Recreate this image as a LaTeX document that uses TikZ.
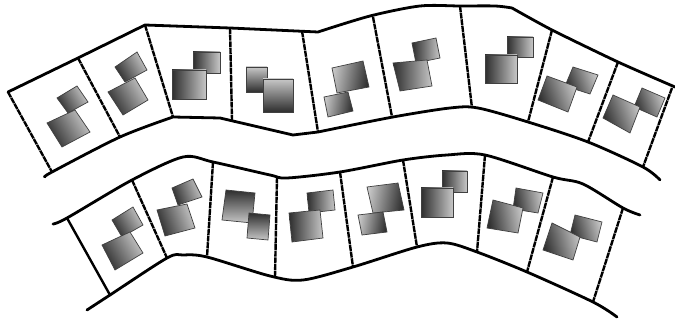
\documentclass[tikz,border=0pt]{standalone}
\begin{document}
\begin{tikzpicture}[x=1pt,y=-1pt,
  edge/.style={line width=2.8pt,line join=round,line cap=round},
  divider/.style={line width=2.4pt,dash pattern=on 6pt off 0.7pt},
  solidiv/.style={line width=2.4pt},
  hs/.style={draw=black!75,line width=0.7pt,top color=black!22,bottom color=black!82}]
\useasboundingbox[fill=white] (0,0) rectangle (675,320);

% ---------- upper strip ----------
\draw[edge] (8,92) -- (78,58) -- (145,25) -- (230,28) -- (318,32)
  plot[smooth,tension=0.5] coordinates {(318,32) (370,16) (420,6) (460,6) (495,6) (512,8)}
  plot[smooth,tension=0.4] coordinates {(512,8) (552,30) (618,62) (675,87)};
\draw[edge] plot[smooth,tension=0.5] coordinates {(45,177) (52,172) (120,137) (173,117)}
  -- (220,118) -- (293,135) -- (318,132)
  plot[smooth,tension=0.5] coordinates {(318,132) (393,117) (450,108) (478,108) (528,122) (588,142) (643,167) (660,180)};

\draw[divider] (8,92) -- (52,172);
\draw[divider] (78,58) -- (120,137);
\draw[divider] (145,25) -- (173,117);
\draw[divider] (230,28) -- (232,120);
\draw[divider] (302,31) -- (318,132);
\draw[divider] (373,17) -- (392,117);
\draw[divider] (460,6) -- (472,108);
\draw[divider] (552,30) -- (528,122);
\draw[divider] (618,62) -- (588,142);
\draw[divider] (672,88) -- (643,167);

% houses upper
\shade[hs,shading angle=-60] (57,98) -- (77,86) -- (88,102) -- (68,113) -- cycle;
\shade[hs,shading angle=-60] (47,123) -- (75,110) -- (90,132) -- (62,147) -- cycle;

\shade[hs,shading angle=-60] (115,67) -- (137,52) -- (147,70) -- (125,82) -- cycle;
\shade[hs,shading angle=-60] (108,92) -- (135,78) -- (148,100) -- (123,115) -- cycle;

\shade[hs,shading angle=-90] (193,52) rectangle (220,73);
\shade[hs,shading angle=-90] (172,70) rectangle (206,99);

\shade[hs,shading angle=0] (246,67) rectangle (267,92);
\shade[hs,shading angle=0] (263,79) rectangle (293,112);

\shade[hs,shading angle=80] (332,68) -- (363,61) -- (369,87) -- (337,93) -- cycle;
\shade[hs,shading angle=80] (324,97) -- (348,92) -- (353,111) -- (328,117) -- cycle;

\shade[hs,shading angle=-90] (412,43) -- (436,38) -- (440,58) -- (416,63) -- cycle;
\shade[hs,shading angle=-90] (393,63) -- (427,60) -- (432,86) -- (400,91) -- cycle;

\shade[hs,shading angle=-90] (507,37) rectangle (533,57);
\shade[hs,shading angle=-90] (485,55) rectangle (517,83);

\shade[hs,shading angle=-70] (573,67) -- (598,75) -- (590,94) -- (565,86) -- cycle;
\shade[hs,shading angle=-70] (538,100) -- (547,76) -- (577,87) -- (568,112) -- cycle;

\shade[hs,shading angle=-70] (642,88) -- (665,98) -- (657,117) -- (634,107) -- cycle;
\shade[hs,shading angle=-70] (603,118) -- (613,95) -- (640,107) -- (630,133) -- cycle;

% ---------- lower strip ----------
\draw[edge] plot[smooth,tension=0.5] coordinates {(53,224) (67,218) (132,180) (183,157) (213,162) (270,175) (287,178) (340,172) (403,160) (447,155) (485,155) (553,177) (583,184) (623,208) (640,215)};
\draw[edge] plot[smooth,tension=0.5] coordinates {(87,310) (110,295) (167,258) (183,255) (207,257) (270,276) (303,280) (353,267) (417,247) (447,243) (477,252) (527,272) (593,302) (617,317)};

\draw[solidiv] (67,218) -- (110,295);
\draw[divider] (132,180) -- (167,258);
\draw[divider] (213,162) -- (207,257);
\draw[divider] (277,177) -- (275,277);
\draw[divider] (340,172) -- (353,267);
\draw[divider] (403,160) -- (417,247);
\draw[divider] (485,155) -- (477,252);
\draw[divider] (553,177) -- (527,272);
\draw[divider] (623,208) -- (593,302);

% houses lower
\shade[hs,shading angle=-60] (112,220) -- (133,207) -- (143,225) -- (122,237) -- cycle;
\shade[hs,shading angle=-60] (102,245) -- (130,232) -- (143,253) -- (115,270) -- cycle;

\shade[hs,shading angle=-70] (172,188) -- (193,179) -- (202,197) -- (178,205) -- cycle;
\shade[hs,shading angle=-70] (157,210) -- (187,204) -- (195,228) -- (165,236) -- cycle;

\shade[hs,shading angle=180] (226,190) -- (255,193) -- (252,223) -- (222,220) -- cycle;
\shade[hs,shading angle=180] (249,213) -- (270,215) -- (268,240) -- (247,238) -- cycle;

\shade[hs,shading angle=-90] (307,193) -- (333,190) -- (335,210) -- (309,213) -- cycle;
\shade[hs,shading angle=-90] (289,213) -- (320,210) -- (323,238) -- (292,242) -- cycle;

\shade[hs,shading angle=80] (367,187) -- (398,183) -- (404,210) -- (373,213) -- cycle;
\shade[hs,shading angle=80] (358,215) -- (383,212) -- (387,232) -- (362,235) -- cycle;

\shade[hs,shading angle=-90] (442,171) rectangle (467,192);
\shade[hs,shading angle=-90] (421,188) rectangle (453,217);

\shade[hs,shading angle=-80] (516,188) -- (543,193) -- (538,213) -- (513,209) -- cycle;
\shade[hs,shading angle=-80] (493,200) -- (523,208) -- (518,233) -- (487,228) -- cycle;

\shade[hs,shading angle=-75] (575,215) -- (602,222) -- (597,242) -- (570,235) -- cycle;
\shade[hs,shading angle=-75] (552,223) -- (580,237) -- (573,260) -- (543,250) -- cycle;
\end{tikzpicture}
\end{document}
